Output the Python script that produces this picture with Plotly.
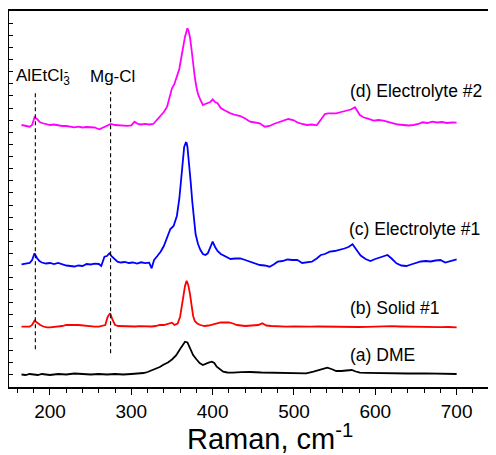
import plotly.graph_objects as go

# ---------------- data (Raman shift in cm^-1, intensity in arbitrary offset units) ----------------
dme_x = [165,170,175,180,185,190,195,200,210,220,230,240,250,260,270,280,290,300,
         310,315,320,325,330,335,340,345,350,355,360,363,366,369,372,376,380,384,388,392,395,399,
         402,405,409,413,418,425,435,446,460,475,490,505,515,524,532,537,541,546,552,558,565,571,
         576,581,590,600,618,640,660,680,700]
dme_y = [12.5,12,13,12.5,12,13,12.5,12,13,12.5,13.5,13,12.5,13,12.5,13,12.5,13,
         13.5,14,15,16.5,18,20,22.5,24.5,27.5,31.5,38,42,45.3,44.5,38.7,32,27.7,24,22,23.5,24.3,25.3,
         24,20.3,17.5,15.3,14.5,14.3,14.8,15,14.5,14.3,14,13.7,13.7,15.3,17,18.5,19.3,18,16,16,16.5,17,
         15.5,14.3,14.2,14,14,13.5,13.6,13.2,13]

solid_x = [165,170,175,178,181,184,188,192,196,200,
           205,210,215,220,225,230,235,240,245,250,
           255,260,264,268,271,274,277,280,284,290,
           295,300,305,310,315,320,325,330,335,340,
           344,347,350,353,357,360,362,364,366,368,
           370,372,374,376,378,381,385,390,395,400,
           405,410,415,420,425,430,440,450,456,461,
           466,472,480,490,500,510,520,530,540,550,
           560,570,580,590,600,608,614,620,630,640,
           650,660,670,680,690,700]
solid_y = [60.3,60.5,60.3,62,66.3,64.5,62,60.5,59.7,59.7,
           60,60.3,61,62,62.3,62,62,61.5,61,60.5,
           60.3,60.3,61,62,70.3,73.7,67,62,61,60.7,
           60.5,60.7,60.5,60.8,60.5,60.7,60.5,61,62,62,
           63,64,64.3,62,63.5,70.3,80,92,101,106.3,
           102,93.7,82,71,66,63.5,62,61,61.5,62.7,
           63.5,64.5,64.7,64.5,63.5,62,61,61.3,62,63.7,
           61.5,61,60.5,60.3,60.5,60.2,60.3,60.5,60.3,60.2,
           60.5,60.3,60,60.2,60.4,61,61.3,60.8,60.5,60.3,
           60,60.1,59.8,59.9,60,59.7]

el1_x = [165,170,175,178,181,184,187,190,195,200,
         205,210,215,220,225,230,235,240,245,250,
         255,260,263,265,267,270,273,276,279,283,
         287,292,297,302,307,312,317,322,325,328,
         332,336,340,344,348,352,356,359,361,363,
         365,367,368,369,371,373,375,377,379,382,
         385,388,391,394,397,400,403,406,410,414,
         418,422,428,434,440,446,452,458,464,470,
         475,480,486,492,498,504,510,516,522,528,
         533,538,544,550,556,562,567,572,577,582,
         588,594,600,606,611,615,620,626,632,638,
         644,650,656,662,668,674,680,686,692,700]
el1_y = [122.7,123,124,127,133.7,129,126,124.5,123.5,124,
         123,124,122.5,121.5,121,120.5,121.5,121,123,122.5,
         123.3,123,121,125,130.3,131,133.7,130.5,128.5,125.3,
         124.5,125,124,124.5,123.5,124.7,123.8,124.3,118.7,127,
         131,135.3,141,149,158,161,171,188,205,225,
         240,244.3,244,240,225,205,185,165,153,143,
         137,133,132,133.7,139,145.3,140,136,133,131.5,
         129.5,128,128.5,128.5,127,125.5,124,122,121.5,120.3,
         122.5,125.3,126,127.5,127,127.2,124,124.5,125.3,128.5,
         132,133,135.3,136,137,138.5,140,142.7,137,131.5,
         128,126,128,129.5,131.5,132,128.5,123.7,121.5,121,
         122.5,124,125.5,126,125.5,126.5,127,124.5,126,127.7]

el2_x = [165,170,175,178,181,184,187,190,195,200,
         205,210,215,220,225,230,235,240,245,250,
         255,258,261,264,268,272,275,280,285,290,
         295,300,304,308,312,317,322,327,331,334,
         337,340,344,347,350,353,356,359,362,364,
         366,368,369,370,372,374,376,378,380,382,
         385,388,391,394,397,400,403,406,410,414,
         418,422,428,434,440,446,452,458,464,470,
         475,480,486,493,499,505,510,516,522,528,
         531,534,538,542,547,552,558,564,570,575,
         578,581,586,590,598,604,610,616,622,628,
         635,641,647,653,658,664,670,676,682,688,
         694,700]
el2_y = [262,261,260.3,262,269.7,268,265.3,264,263,262,
         262.5,261.5,261,261,260.5,259.7,260.3,259.5,260,259.7,
         259.5,258.5,257.7,259,260.3,262,263,262,261.5,261.7,
         261.2,261.7,265.3,263,262.5,263.2,262.5,263,267,269,
         272,275,280.3,290,298.7,303,310,318,332,342,
         350.3,356,358.7,357,350.3,338,322,310,300,293,
         287,282,283,283.7,285,287.7,285,283.7,279,277,
         275,273.7,272,271,268.5,265.3,264.5,263.7,260.3,261,
         263,264.3,266,268,267,264.3,263,262,262.5,261.7,
         265,268.7,273,273.7,273.7,273.7,275,276.3,277.5,279.7,
         276,272,269.5,268.7,266.3,267,266.3,265,263.7,262.5,
         262,261.5,262,263,264.7,264,265.3,264.5,265,264,
         264.5,264.3]

series_names = ["(a) DME", "(b) Solid #1", "(c) Electrolyte #1", "(d) Electrolyte #2"]
series_colors = ["#000000", "#ff0000", "#0000ff", "#ff00ff"]

marker_x = [182, 274.5]          # AlEtCl3- and Mg-Cl band positions
marker_y_low = [37.7, 33.7]
marker_y_high = [295.3, 295.3]
marker_labels = ["AlEtCl<sub>3</sub>", "Mg-Cl"]

x_tick_vals = [200, 300, 400, 500, 600, 700]
x_range = [149.6, 748.4]
y_range = [0, 376]

FONT = "Arial, Liberation Sans, Helvetica, sans-serif"

fig = go.Figure()

for xs, ys, name, col in zip([dme_x, solid_x, el1_x, el2_x],
                             [dme_y, solid_y, el1_y, el2_y],
                             series_names, series_colors):
    fig.add_trace(go.Scatter(x=xs, y=ys, mode="lines", name=name,
                             line=dict(color=col, width=1.8), showlegend=False))

for mx, ylo, yhi in zip(marker_x, marker_y_low, marker_y_high):
    fig.add_trace(go.Scatter(x=[mx, mx], y=[ylo, yhi], mode="lines", showlegend=False,
                             line=dict(color="#000000", width=1.1, dash="4px,3px")))

# series labels
label_pos = [(566, 31.8), (566, 79.5), (565, 157.8), (567, 296.5)]
for name, (lx, ly) in zip(series_names, label_pos):
    fig.add_annotation(x=lx, y=ly, xref="x", yref="y", text=name, showarrow=False,
                       xanchor="left", yanchor="middle",
                       font=dict(family=FONT, size=17.5, color="#000000"))

# band labels
fig.add_annotation(x=156.0, y=310.3, xref="x", yref="y", text=marker_labels[0], showarrow=False,
                   xanchor="left", yanchor="middle", font=dict(family=FONT, size=17, color="#000000"))
fig.add_annotation(x=219.5, y=316.0, xref="x", yref="y", text="-", showarrow=False,
                   xanchor="center", yanchor="middle", font=dict(family=FONT, size=13, color="#000000"))
fig.add_annotation(x=246.7, y=310.3, xref="x", yref="y", text=marker_labels[1], showarrow=False,
                   xanchor="left", yanchor="middle", font=dict(family=FONT, size=17, color="#000000"))

# axis title
fig.add_annotation(x=0.536, y=-0.133, xref="paper", yref="paper", text="Raman, cm<sup>-1</sup>",
                   showarrow=False, xanchor="center", yanchor="middle",
                   font=dict(family=FONT, size=29, color="#000000"))

# the page body has an 8px default margin, so the figure is sized to fill the rest of the window
fig.update_layout(
    width=488, height=447,
    margin=dict(l=1, r=0, t=3, b=68),
    paper_bgcolor="white", plot_bgcolor="white",
    font=dict(family=FONT, color="#000000"),
    showlegend=False,
)
fig.update_xaxes(range=x_range, tickvals=x_tick_vals, ticks="outside", ticklen=6, tickwidth=1.3,
                 tickcolor="#000000", showline=True, linecolor="#000000", linewidth=1.8,
                 mirror=True, showgrid=False, zeroline=False,
                 tickfont=dict(family=FONT, size=19, color="#000000"),
                 minor=dict(dtick=20, tick0=0, ticks="outside", ticklen=4, tickwidth=1.1,
                            tickcolor="#000000", showgrid=False))
fig.update_yaxes(range=y_range, tick0=0, dtick=376 / 31, ticks="inside", ticklen=4, tickwidth=1.1,
                 tickcolor="#000000", showticklabels=False, showline=True, linecolor="#000000",
                 linewidth=1.8, mirror=False, showgrid=False, zeroline=False)

fig.write_html("out.html")
